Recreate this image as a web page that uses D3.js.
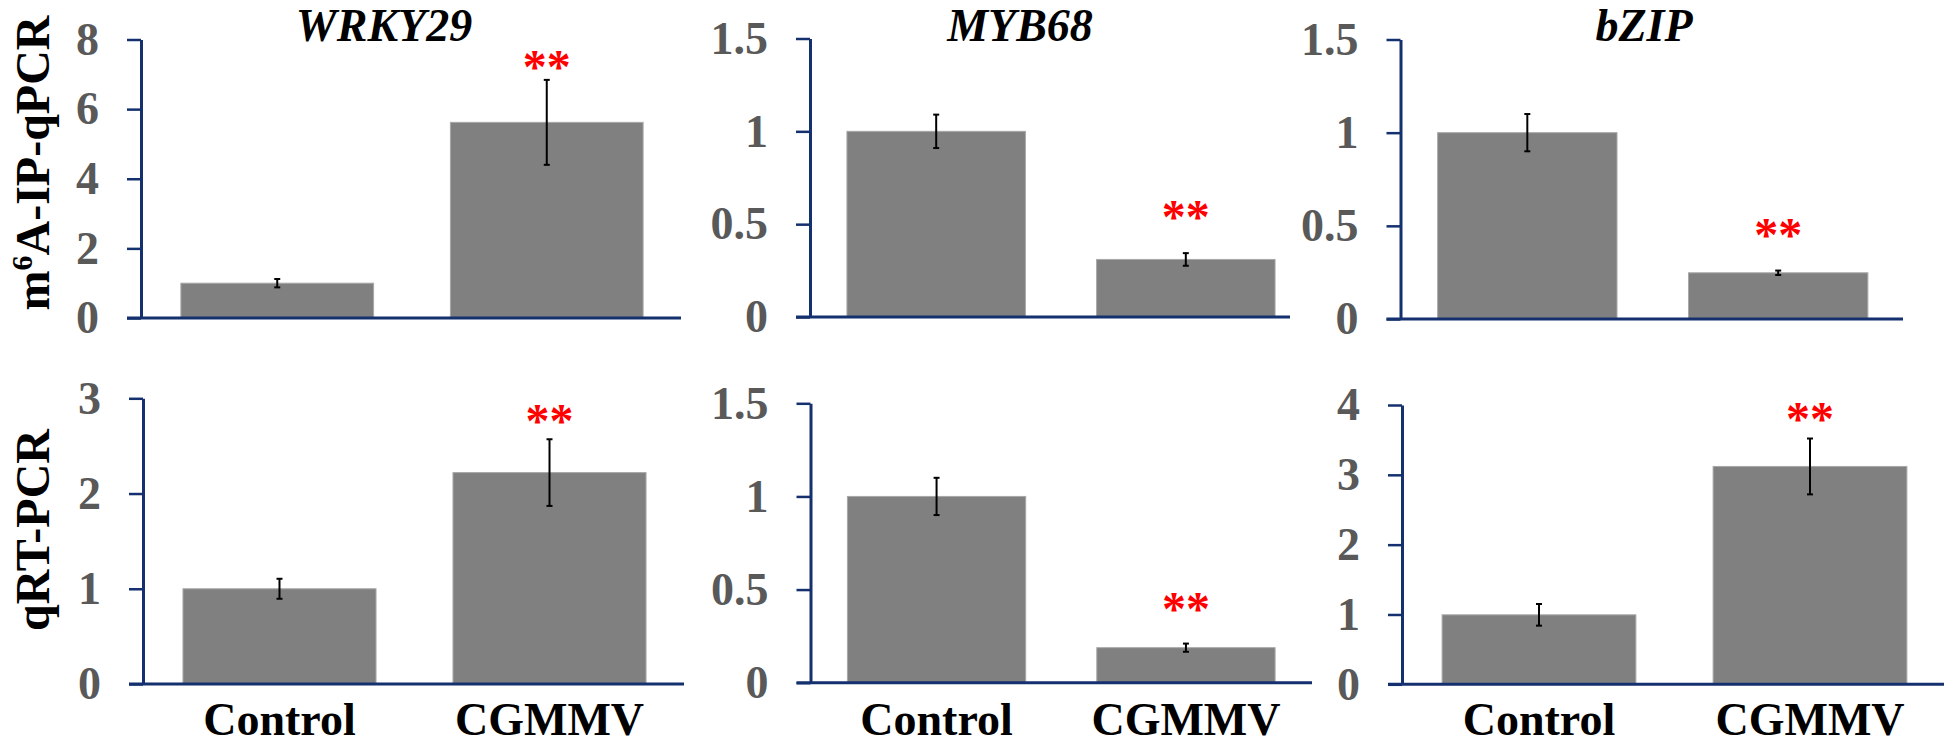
<!DOCTYPE html>
<html>
<head>
<meta charset="utf-8">
<script src="https://cdn.jsdelivr.net/npm/d3@7"></script>
<style>
  html, body { margin: 0; padding: 0; background: #fff; }
  svg { display: block; }
</style>
</head>
<body>
<svg id="chart" width="1944" height="746"></svg>
<script>
// ---------------- DATA ----------------
const genes = ["WRKY29", "MYB68", "bZIP"];
const groups = ["Control", "CGMMV"];
const assays = ["m6A-IP-qPCR", "qRT-PCR"];

// m6A-IP-qPCR (top row)
const ipMeans  = [[1.0, 5.62], [1.0, 0.31], [1.0, 0.248]];
const ipErrors = [[0.12, 1.22], [0.09, 0.034], [0.10, 0.012]];
const ipTicks  = [[0, 2, 4, 6, 8], [0, 0.5, 1, 1.5], [0, 0.5, 1, 1.5]];
const ipSigLevel = [6.75, 0.452, 0.365];   // value at the baseline of the "**" mark

// qRT-PCR (bottom row)
const rtMeans  = [[1.0, 2.22], [1.0, 0.188], [0.995, 3.12]];
const rtErrors = [[0.105, 0.35], [0.10, 0.022], [0.155, 0.40]];
const rtTicks  = [[0, 1, 2, 3], [0, 0.5, 1, 1.5], [0, 1, 2, 3, 4]];
const rtSigLevel = [2.59, 0.31, 3.57];

const sigLabel = "**";

// ---------------- LAYOUT (positions / styles) ----------------
const W = 1944, H = 746;
const axisColor = "#14306e";
const barColor = "#808080";
const tickLabelColor = "#595959";
const serif = "'Liberation Serif', 'Times New Roman', serif";

const panelLayout = [
  // top row
  [
    { axisX: 141,   band: [141, 683],    yRange: [318, 39.5],   xEnd: 681 },
    { axisX: 810,   band: [810, 1312],   yRange: [317, 38.5],   xEnd: 1290 },
    { axisX: 1400.5,band: [1400.5, 1905],yRange: [319, 39.5],   xEnd: 1903 }
  ],
  // bottom row
  [
    { axisX: 143,   band: [143, 686],    yRange: [684, 398.3],  xEnd: 684 },
    { axisX: 810.5, band: [810.5, 1312], yRange: [682.7, 403.3],xEnd: 1312 },
    { axisX: 1402,  band: [1402, 1947],  yRange: [684.3, 405],  xEnd: 1944 }
  ]
];
const titleX = [384, 1020, 1644];
const titleY = 41;
const yTitleX = 49;
const yTitleCenter = [163, 530];
const catLabelY = 735;

const svg = d3.select("#chart");
svg.append("rect").attr("width", W).attr("height", H).attr("fill", "#fff");

const rowsData = [
  { means: ipMeans, errors: ipErrors, ticks: ipTicks, sig: ipSigLevel },
  { means: rtMeans, errors: rtErrors, ticks: rtTicks, sig: rtSigLevel }
];

rowsData.forEach((row, r) => {
  genes.forEach((gene, c) => {
    const L = panelLayout[r][c];
    const ticks = row.ticks[c];
    const y = d3.scaleLinear().domain([0, d3.max(ticks)]).range(L.yRange);
    const x = d3.scaleBand().domain(groups).range(L.band)
      .paddingInner(0.285).paddingOuter(0.148);

    const g = svg.append("g");

    const vals = groups.map((grp, i) => ({ grp, m: row.means[c][i], e: row.errors[c][i] }));

    // bars
    g.selectAll("rect.bar").data(vals).enter().append("rect")
      .attr("class", "bar")
      .attr("x", d => x(d.grp))
      .attr("width", x.bandwidth())
      .attr("y", d => y(d.m))
      .attr("height", d => y(0) - y(d.m))
      .attr("fill", barColor)
      .attr("stroke", "#a8a8a8")
      .attr("stroke-width", 1);

    // error bars
    const eb = g.selectAll("g.eb").data(vals).enter().append("g").attr("class", "eb");
    eb.append("line")
      .attr("x1", d => x(d.grp) + x.bandwidth() / 2)
      .attr("x2", d => x(d.grp) + x.bandwidth() / 2)
      .attr("y1", d => y(d.m - d.e))
      .attr("y2", d => y(d.m + d.e))
      .attr("stroke", "#000").attr("stroke-width", 2);
    [(d) => d.m - d.e, (d) => d.m + d.e].forEach(fn => {
      eb.append("line")
        .attr("x1", d => x(d.grp) + x.bandwidth() / 2 - 3)
        .attr("x2", d => x(d.grp) + x.bandwidth() / 2 + 3)
        .attr("y1", d => y(fn(d)))
        .attr("y2", d => y(fn(d)))
        .attr("stroke", "#000").attr("stroke-width", 2);
    });

    // y axis
    const ya = g.append("g")
      .attr("transform", `translate(${L.axisX},0)`)
      .call(d3.axisLeft(y).tickValues(ticks).tickSize(14).tickSizeOuter(0)
        .tickPadding(28).tickFormat(d => String(d)));
    ya.select(".domain").attr("stroke", axisColor).attr("stroke-width", 3);
    ya.selectAll(".tick line").attr("stroke", axisColor).attr("stroke-width", 2.5);
    ya.selectAll(".tick text")
      .attr("fill", tickLabelColor)
      .style("font-family", serif)
      .style("font-weight", "bold")
      .style("font-size", "46px");

    // x axis baseline
    g.append("line")
      .attr("x1", L.axisX - 14).attr("x2", L.xEnd)
      .attr("y1", y(0)).attr("y2", y(0))
      .attr("stroke", axisColor).attr("stroke-width", 3);

    // significance marks on CGMMV
    g.append("text")
      .attr("x", x("CGMMV") + x.bandwidth() / 2)
      .attr("y", y(row.sig[c]))
      .attr("text-anchor", "middle")
      .attr("fill", "#ff0000")
      .style("font-family", serif)
      .style("font-weight", "bold")
      .style("font-size", "48px")
      .text(sigLabel);

    // gene titles on top row
    if (r === 0) {
      svg.append("text")
        .attr("x", titleX[c]).attr("y", titleY)
        .attr("text-anchor", "middle")
        .attr("fill", "#000")
        .style("font-family", serif)
        .style("font-weight", "bold")
        .style("font-style", "italic")
        .style("font-size", "46px")
        .text(gene);
    }

    // category labels on bottom row
    if (r === 1) {
      g.selectAll("text.cat").data(groups).enter().append("text")
        .attr("class", "cat")
        .attr("x", d => x(d) + x.bandwidth() / 2)
        .attr("y", catLabelY)
        .attr("text-anchor", "middle")
        .attr("fill", "#000")
        .style("font-family", serif)
        .style("font-weight", "bold")
        .style("font-size", "46px")
        .text(d => d);
    }
  });
});

// y-axis titles
assays.forEach((a, r) => {
  const t = svg.append("text")
    .attr("transform", `translate(${yTitleX},${yTitleCenter[r]}) rotate(-90)`)
    .attr("text-anchor", "middle")
    .attr("fill", "#000")
    .style("font-family", serif)
    .style("font-weight", "bold")
    .style("font-size", "48px");
  if (a.startsWith("m6A")) {
    t.append("tspan").text("m");
    t.append("tspan").attr("dy", -17).style("font-size", "30px").text("6");
    t.append("tspan").attr("dy", 17).text(a.slice(2));
  } else {
    t.text(a);
  }
});
</script>
</body>
</html>
